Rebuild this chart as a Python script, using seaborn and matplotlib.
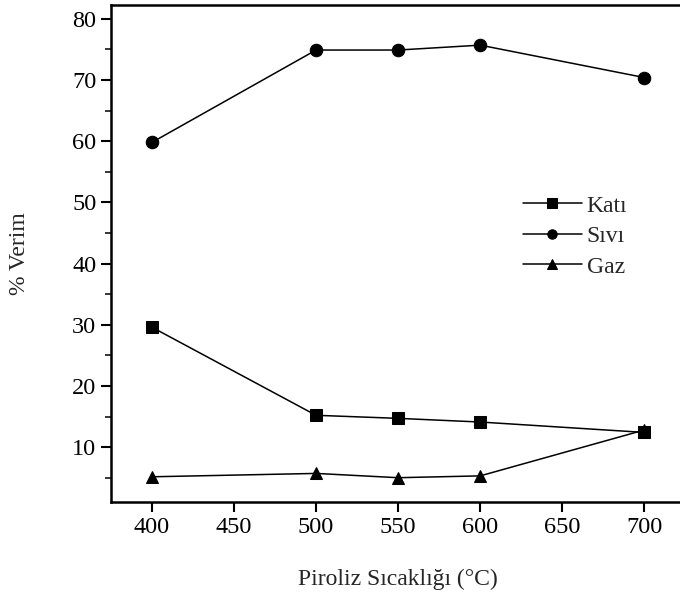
import matplotlib
matplotlib.use("Agg")
import matplotlib.pyplot as plt
from matplotlib.ticker import MultipleLocator
import seaborn as sns
import pandas as pd

# Pyrolysis temperatures (°C) and product yields (%)
temperatures = [400, 500, 550, 600, 700]
kati = [29.6, 15.2, 14.7, 14.1, 12.4]
sivi = [59.8, 74.9, 74.9, 75.7, 70.4]
gaz = [5.15, 5.7, 5.0, 5.3, 12.8]
series_names = ["Katı", "Sıvı", "Gaz"]

frames = []
for name, vals in zip(series_names, [kati, sivi, gaz]):
    frames.append(pd.DataFrame({"T": temperatures, "Verim": vals, "Ürün": name}))
df = pd.concat(frames, ignore_index=True)

sns.set_theme(style="ticks")
plt.rcParams["font.family"] = ["Liberation Serif", "DejaVu Serif"]

fig = plt.figure(figsize=(6.8, 5.95), dpi=100)
ax = fig.add_axes([0.163, 0.156, 0.845, 0.836])

sns.lineplot(
    data=df, x="T", y="Verim", hue="Ürün", style="Ürün",
    hue_order=series_names, style_order=series_names,
    palette={n: "black" for n in series_names},
    markers={"Katı": "s", "Sıvı": "o", "Gaz": "^"},
    dashes=False, markersize=9, linewidth=1.1,
    markeredgecolor="black", ax=ax,
)

ax.set_xlim(375, 725)
ax.set_ylim(1, 82.3)
ax.set_xticks([400, 450, 500, 550, 600, 650, 700])
ax.set_yticks([10, 20, 30, 40, 50, 60, 70, 80])
ax.yaxis.set_minor_locator(MultipleLocator(5))
ax.tick_params(axis="both", which="major", direction="out", length=7, width=1.5,
               labelsize=17.5, colors="black")
ax.tick_params(axis="y", which="minor", direction="out", length=4, width=1.3)
for side in ["left", "bottom", "top", "right"]:
    ax.spines[side].set_linewidth(1.8)
    ax.spines[side].set_color("black")

ax.set_xlabel("Piroliz Sıcaklığı (°C)", fontsize=17, labelpad=22)
ax.set_ylabel("% Verim", fontsize=17, labelpad=30)

leg = ax.legend(
    title=None, frameon=False, fontsize=17,
    loc="upper left", bbox_to_anchor=(0.68, 0.66),
    handlelength=2.5, handletextpad=0.2, labelspacing=0.38, markerscale=0.75,
)

fig.savefig("out.png", dpi=100)
